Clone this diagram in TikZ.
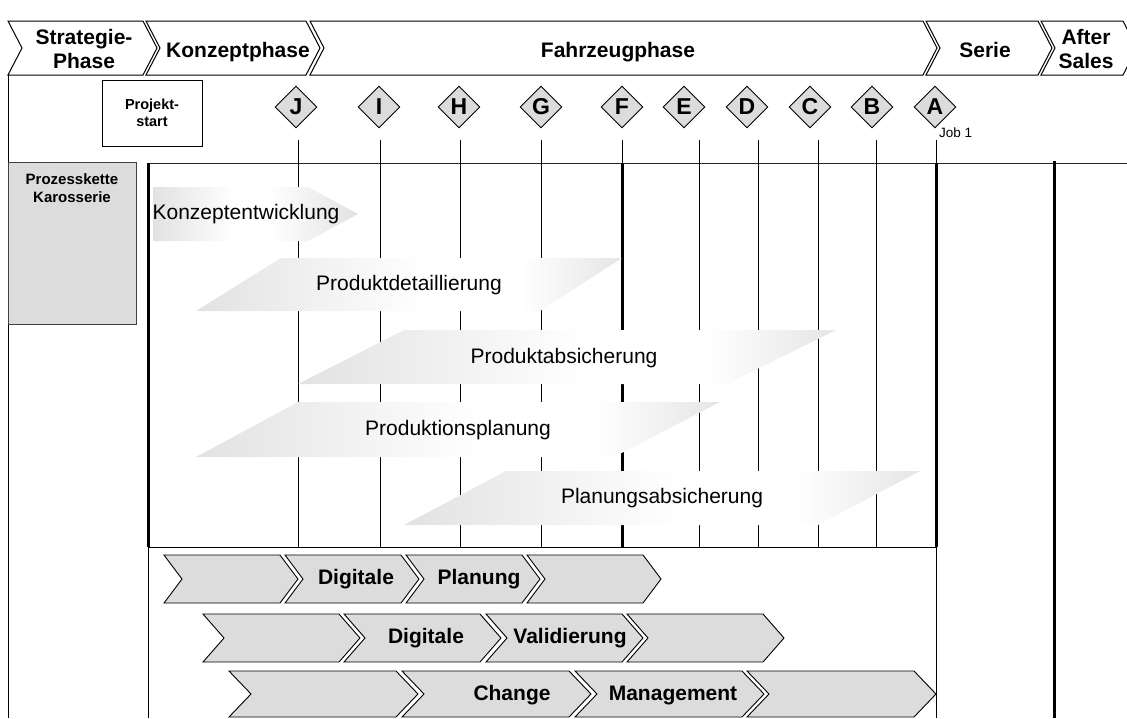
\documentclass[tikz,border=0pt]{standalone}
\usepackage{fontspec}
\setmainfont{Liberation Sans}
\usetikzlibrary{shapes.geometric}

\definecolor{boxgray}{RGB}{220,220,220}
\definecolor{bandL}{RGB}{226,226,226}
\definecolor{bandR}{RGB}{229,229,229}

% soft horizontal fades for the phase bands
\pgfdeclarehorizontalshading{bandshade}{100bp}{color(0bp)=(bandL); color(25bp)=(bandL); color(52bp)=(white); color(63bp)=(white); color(75bp)=(bandR); color(100bp)=(bandR)}
\pgfdeclarehorizontalshading{arrowshade}{100bp}{color(0bp)=(bandL); color(25bp)=(bandL); color(45bp)=(white); color(53bp)=(white); color(75bp)=(bandL); color(100bp)=(bandL)}

% chevron: style, left x, top y, body width, height, point depth
\newcommand\chevdraw[6]{\draw[#1] (#2,#3) -- ++(#4,0) -- ++(#6,#5/2) -- ++(-#6,#5/2) -- ++(-#4,0) -- ++(#6,-#5/2) -- cycle;}

\tikzset{
  hdr/.style={draw=black, fill=white, line width=1pt, line join=miter},
  hdrlabel/.style={font=\fontsize{21}{24}\selectfont\bfseries, align=center, inner sep=0pt},
  msd/.style={diamond, draw=black, fill=boxgray, line width=0.9pt, minimum width=42pt,
              minimum height=42pt, inner sep=0pt, font=\fontsize{23}{23}\selectfont\bfseries},
  gridthin/.style={line width=1pt, draw=black},
  gridthick/.style={line width=3pt, draw=black},
  bandlabel/.style={font=\fontsize{21}{23}\selectfont, inner sep=0pt},
  tile/.style={draw=black, fill=boxgray, line width=0.9pt, line join=miter},
  tilelabel/.style={font=\fontsize{21}{23}\selectfont\bfseries, inner sep=0pt},
}

\begin{document}
\begin{tikzpicture}[x=1pt, y=-1pt]
\path[use as bounding box] (0,0) rectangle (1127,718);
\begin{scope}
\clip (0,0) rectangle (1127,718);

% ---------- phase header ----------
\chevdraw{hdr}{8}{21}{135}{54}{14}
\chevdraw{hdr}{146}{21}{160}{54}{14}
\chevdraw{hdr}{310}{21}{613}{54}{14}
\chevdraw{hdr}{926}{21}{112}{54}{14}
\chevdraw{hdr}{1041}{21}{82}{54}{14}
\node[hdrlabel] (phStrategie) at (84,48.5) {Strategie-\\Phase};
\node[hdrlabel, anchor=base] (phKonzept) at (238,57) {Konzeptphase};
\node[hdrlabel, anchor=base] (phFahrzeug) at (618,57) {Fahrzeugphase};
\node[hdrlabel, anchor=base] (phSerie) at (985,57) {Serie};
\node[hdrlabel] (phAfter) at (1086,48.5) {After\\Sales};

% ---------- frame and grid ----------
\draw[gridthin] (8,75) -- (8,718);
\draw[line width=1pt, draw=black!85] (148,163) -- (1127,163);
\foreach \x in {298,380,460,541,699,758,818,876}
  \draw[gridthin] (\x,140) -- (\x,547);
\draw[gridthin] (622,140) -- (622,163);
\draw[gridthick] (622,163) -- (622,547);
\draw[gridthin] (936,140) -- (936,163);
\draw[gridthick] (936,163) -- (936,547);
\draw[gridthin] (936,547) -- (936,718);
\draw[gridthick] (148,163) -- (148,547);
\draw[gridthin] (148,547) -- (148,718);
\draw[gridthick] (1054,161) -- (1054,718);
\draw[gridthin] (148,547) -- (936,547);

% ---------- milestones ----------
\node[draw=black, fill=white, line width=1pt, minimum width=100pt, minimum height=66pt,
      align=center, inner sep=0pt, font=\fontsize{14.5}{17}\selectfont\bfseries]
      (projektstart) at (152,113) {Projekt-\\start};
\foreach \n/\x in {J/296,I/379,H/459,G/541,F/622,E/684,D/747,C/810,B/872,A/935}
  \node[msd] (ms\n) at (\x,107) {\n};
\node[anchor=west, inner sep=0pt, font=\fontsize{13.5}{15}\selectfont] (job1) at (939,133) {Job 1};

% ---------- process chain label ----------
\draw[draw=black!75, fill=boxgray, line width=1pt] (8,162) rectangle (136,324);
\node[align=center, inner sep=0pt, font=\fontsize{15}{18}\selectfont\bfseries]
      (prozess) at (72,188.5) {Prozesskette\\Karosserie};

% ---------- phase bands ----------
\shade[shading=arrowshade] (153,187) -- (308,187) -- (358,214) -- (308,241) -- (153,241) -- cycle;
\node[bandlabel] (konzept) at (246,214) {Konzeptentwicklung};

\shade[shading=bandshade] (281,258) -- (622,258) -- (540,311) -- (196,311) -- cycle;
\node[bandlabel] (detail) at (409,285) {Produktdetaillierung};

\shade[shading=bandshade] (404,330) -- (836,330) -- (727,384) -- (298,384) -- cycle;
\node[bandlabel] (absich) at (564,358) {Produktabsicherung};

\shade[shading=bandshade] (298,402) -- (720,402) -- (614,457) -- (196,457) -- cycle;
\node[bandlabel] (prodplan) at (458,430) {Produktionsplanung};

\shade[shading=bandshade] (506,471) -- (920,471) -- (818,525) -- (404,525) -- cycle;
\node[bandlabel] (planabs) at (662,498) {Planungsabsicherung};

% ---------- digital process chevrons ----------
\foreach \l in {164,285,406,527} { \chevdraw{tile}{\l}{555}{116}{48}{18} }
\node[tilelabel] (dp1) at (356,579) {Digitale};
\node[tilelabel] (dp2) at (479,579) {Planung};

\foreach \l in {203,344,486,627} { \chevdraw{tile}{\l}{614}{136}{48}{21} }
\node[tilelabel] (dv1) at (426,638) {Digitale};
\node[tilelabel] (dv2) at (570,638) {Validierung};

\foreach \l in {229,402,575,747} { \chevdraw{tile}{\l}{671}{167}{46}{22} }
\node[tilelabel] (cm1) at (512,695) {Change};
\node[tilelabel] (cm2) at (673,695) {Management};
\end{scope}
\end{tikzpicture}
\end{document}
